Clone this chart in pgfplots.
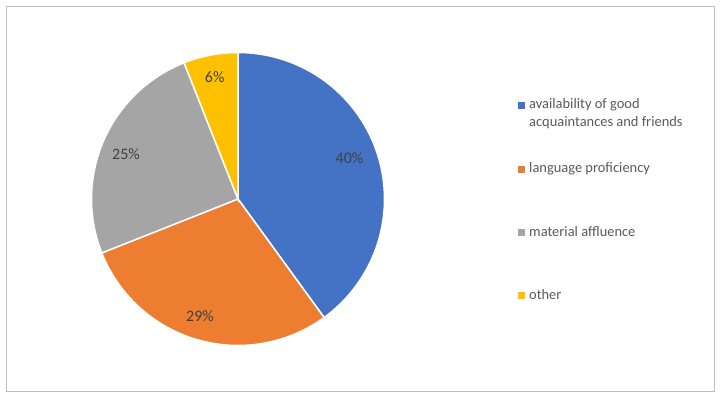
\documentclass[border=0pt]{standalone}
\usepackage{fontspec}
\setmainfont{Carlito}
\usepackage{pgfplots}
\usepackage{pgfplotstable}
\pgfplotsset{compat=1.18}
\definecolor{cA}{HTML}{4472C4}
\definecolor{cB}{HTML}{ED7D31}
\definecolor{cC}{HTML}{A5A5A5}
\definecolor{cD}{HTML}{FFC000}
\definecolor{lbl}{HTML}{404040}
\definecolor{leg}{HTML}{595959}
\definecolor{frame}{HTML}{BFBFBF}
\pgfplotstableread{
name value
avail 40
lang 29
mat 25
other 6
}\piedata
\pgfplotstablegetelem{0}{value}\of\piedata \let\vA\pgfplotsretval
\pgfplotstablegetelem{1}{value}\of\piedata \let\vB\pgfplotsretval
\pgfplotstablegetelem{2}{value}\of\piedata \let\vC\pgfplotsretval
\pgfplotstablegetelem{3}{value}\of\piedata \let\vD\pgfplotsretval
\pgfmathsetmacro\aA{90}
\pgfmathsetmacro\aB{90-3.6*\vA}
\pgfmathsetmacro\aC{\aB-3.6*\vB}
\pgfmathsetmacro\aD{\aC-3.6*\vC}
\pgfmathsetmacro\aE{\aD-3.6*\vD}
\def\cx{238}
\def\cy{200}
\def\rr{146.5}
\begin{document}
\begin{tikzpicture}
\begin{axis}[
  scale only axis, width=723bp, height=399bp,
  xmin=0, xmax=723, ymin=0, ymax=399,
  hide axis, clip=false,
]
\path (axis cs:0,0) rectangle (axis cs:723,399);
\draw[frame, line width=1bp] (axis cs:6.5,392) rectangle (axis cs:714.5,7);
\addplot[fill=cA, draw=white, line width=1.5bp, domain=\aB:\aA, samples=80] ({\cx+\rr*cos(x)},{\cy+\rr*sin(x)}) -- (axis cs:\cx,\cy) -- cycle;
\addplot[fill=cB, draw=white, line width=1.5bp, domain=\aC:\aB, samples=80] ({\cx+\rr*cos(x)},{\cy+\rr*sin(x)}) -- (axis cs:\cx,\cy) -- cycle;
\addplot[fill=cC, draw=white, line width=1.5bp, domain=\aD:\aC, samples=80] ({\cx+\rr*cos(x)},{\cy+\rr*sin(x)}) -- (axis cs:\cx,\cy) -- cycle;
\addplot[fill=cD, draw=white, line width=1.5bp, domain=\aE:\aD, samples=30] ({\cx+\rr*cos(x)},{\cy+\rr*sin(x)}) -- (axis cs:\cx,\cy) -- cycle;
\begin{scope}[every node/.style={font=\fontsize{16}{19}\selectfont, text=lbl, inner sep=0pt, anchor=base}]
\node at (axis cs:349.5,{399-163.3}) {40\%};
\node at (axis cs:200,{399-321.5}) {29\%};
\node at (axis cs:126,{399-159.5}) {25\%};
\node at (axis cs:214.7,{399-82.3}) {6\%};
\end{scope}
\begin{scope}[every node/.style={font=\fontsize{14.5}{17.5}\selectfont, text=leg, inner sep=0pt, anchor=base west}]
\node at (axis cs:518,{399-109}) {\textcolor{cA}{\rule{7bp}{7bp}}\hspace{4bp}availability of good};
\node at (axis cs:529,{399-126.5}) {acquaintances and friends};
\node at (axis cs:518,{399-173}) {\textcolor{cB}{\rule{7bp}{7bp}}\hspace{4bp}language proficiency};
\node at (axis cs:518,{399-236.3}) {\textcolor{cC}{\rule{7bp}{7bp}}\hspace{4bp}material affluence};
\node at (axis cs:518,{399-299.5}) {\textcolor{cD}{\rule{7bp}{7bp}}\hspace{4bp}other};
\end{scope}
\end{axis}
\end{tikzpicture}
\end{document}
